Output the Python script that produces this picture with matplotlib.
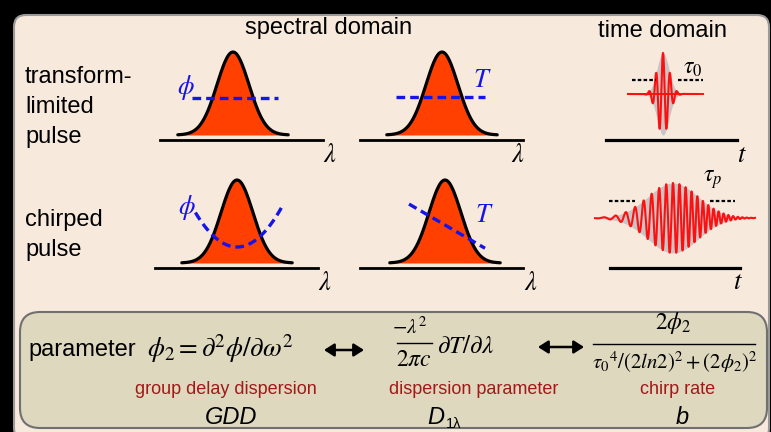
import numpy as np
import matplotlib.pyplot as plt
from matplotlib.patches import FancyBboxPatch, FancyArrowPatch

plt.rcParams['font.family'] = ['Liberation Sans', 'DejaVu Sans']
plt.rcParams['mathtext.fontset'] = 'stix'

# ---------------- content ----------------
col_titles = ['spectral domain', 'time domain']
row_labels = [['transform-', 'limited', 'pulse'], ['chirped', 'pulse']]
param_names = ['group delay dispersion', 'dispersion parameter', 'chirp rate']
param_symbols = ['GDD', 'D', 'b']
d_subscript = '1λ'
formula_gdd = r'$\phi_2 = \partial^2\phi/\partial\omega^2$'
formula_d_num = r'$-\lambda^2$'
formula_d_den = r'$2\pi c$'
formula_d_rest = r'$\partial T/\partial\lambda$'
formula_b_num = r'$2\phi_2$'
formula_b_den = r'$\tau_0{}^4/(2ln2)^2 + (2\phi_2)^2$'

# spectrum: lambda in units of the spectral width
lam = np.linspace(-3.45, 3.45, 200)
spectrum = np.exp(-lam**2 / 2)
# chirped pulse: quadratic spectral phase, linear group delay
lam_phi = np.linspace(-2.6, 2.8, 60)
phi_quad = 5.1 * lam_phi**2          # px above minimum
lam_T = np.array([-2.25, 2.5])
T_lin = -9.3 * lam_T                 # px above centre

# time domain fields (t in px)
t_tl = np.linspace(-35, 35, 900)
env_tl = np.exp(-t_tl**2 / (2 * 6.0**2))
field_tl = env_tl * np.cos(2 * np.pi * t_tl / 7.0)
t_ch = np.linspace(-78, 82, 2000)
env_ch = np.exp(-t_ch**2 / (2 * 25.0**2))
field_ch = env_ch * np.cos(2 * np.pi * (t_ch / 6.6 + 0.00052 * t_ch**2))

# ---------------- colours ----------------
BG = '#f7e9dc'
BOX = '#ddd8be'
FILL = '#ff4000'
BLUE = '#1515e8'
DRED = '#a31818'
GRAY = '#c6c6c6'
PULSE = '#ff1010'

fig = plt.figure(figsize=(7.71, 4.32), dpi=100, facecolor='black')
ax = fig.add_axes([0, 0, 1, 1])
ax.set_xlim(0, 771)
ax.set_ylim(432, 0)
ax.axis('off')
ax.set_facecolor('black')

ax.add_patch(FancyBboxPatch((14, 15), 755, 425, boxstyle='round,pad=0,rounding_size=12',
                            fc=BG, ec='#9a9a9a', lw=1.5, zorder=0))
ax.add_patch(FancyBboxPatch((20, 312), 747, 116, boxstyle='round,pad=0,rounding_size=20',
                            fc=BOX, ec='#707070', lw=1.5, zorder=1))

# titles and row labels
ax.text(329, 28, col_titles[0], fontsize=17, ha='center', va='center')
ax.text(663, 31, col_titles[1], fontsize=17, ha='center', va='center')
for txt, yb in zip(row_labels[0], [83, 113, 143]):
    ax.text(25, yb, txt, fontsize=17, ha='left', va='baseline')
for txt, yb in zip(row_labels[1], [226, 256]):
    ax.text(25, yb, txt, fontsize=17, ha='left', va='baseline')

SIG = 16.0   # px per spectral width unit
HGT = 83.0


def draw_spectrum(cx, base, axis_x0, axis_x1, axis_y, lab_xy):
    x = cx + lam * SIG
    y = base - HGT * spectrum
    ax.fill_between(x, y, base, color=FILL, lw=0, zorder=2)
    ax.plot(x, y, color='black', lw=2.3, zorder=3, solid_capstyle='round')
    ax.plot([axis_x0, axis_x1], [axis_y, axis_y], color='black', lw=2.0, zorder=3)
    ax.text(lab_xy[0], lab_xy[1], r'$\lambda$', fontsize=19, ha='center', va='center')


def draw_pulse(cx, cy, amp, t, env, field, axis_x0, axis_x1, axis_y, lab_xy):
    ax.fill_between(cx + t, cy - amp * env, cy + amp * env, color=GRAY, lw=0, zorder=2)
    ax.plot(cx + t, cy - amp * field, color=PULSE, lw=1.5, zorder=3)
    ax.plot([axis_x0, axis_x1], [axis_y, axis_y], color='black', lw=2.3, zorder=3)
    ax.text(lab_xy[0], lab_xy[1], r'$t$', fontsize=19, ha='center', va='center')


dash_blue = (0, (2.6, 1.5))
dash_blk = (0, (1.6, 1.0))

# row 1: transform-limited
draw_spectrum(233, 135, 160, 323, 140, (330, 155))
ax.plot([192, 278], [98, 98], color=BLUE, lw=2.4, ls=dash_blue, zorder=4)
ax.text(186, 88, r'$\phi$', color=BLUE, fontsize=19, ha='center', va='center')

draw_spectrum(442, 135, 360, 523, 140, (518, 155))
ax.plot([396, 485], [97, 97], color=BLUE, lw=2.4, ls=dash_blue, zorder=4)
ax.text(482, 80, r'$T$', color=BLUE, fontsize=19, ha='center', va='center')

ax.plot([632, 656], [80, 80], color='black', lw=1.6, ls=dash_blk, zorder=4)
ax.plot([678, 703], [80, 80], color='black', lw=1.6, ls=dash_blk, zorder=4)
ax.plot([633, 703], [94, 94], color=PULSE, lw=1.4, zorder=3)
draw_pulse(663, 94, 41, t_tl, env_tl, field_tl, 606, 737, 140, (742, 155))
ax.text(693, 68, r'$\tau_0$', fontsize=17, ha='center', va='center')

# row 2: chirped
draw_spectrum(237, 263, 155, 318, 268, (325, 283))
ax.plot(237 + lam_phi * SIG, 247 - phi_quad, color=BLUE, lw=2.4, ls=dash_blue, zorder=4)
ax.text(187, 207, r'$\phi$', color=BLUE, fontsize=19, ha='center', va='center')

draw_spectrum(445, 263, 360, 523, 268, (531, 283))
ax.plot(445 + lam_T * SIG, 225 - T_lin, color=BLUE, lw=2.4, ls=dash_blue, zorder=4)
ax.text(484, 215, r'$T$', color=BLUE, fontsize=19, ha='center', va='center')

ax.plot([609, 635], [201, 201], color='black', lw=1.6, ls=dash_blk, zorder=4)
ax.plot([710, 735], [201, 201], color='black', lw=1.6, ls=dash_blk, zorder=4)
draw_pulse(673, 218, 35, t_ch, env_ch, field_ch, 610, 740, 268, (738, 282))
ax.text(713, 180, r'$\tau_p$', fontsize=17, ha='center', va='center')

# parameter box
ax.text(28, 350, 'parameter', fontsize=17, ha='left', va='center', zorder=5)
ax.text(147, 349, formula_gdd, fontsize=19.5, ha='left', va='center', zorder=5)
for x0, x1, y in [(324, 364, 350), (538, 584, 347)]:
    ax.add_patch(FancyArrowPatch((x0, y), (x1, y), arrowstyle='<|-|>,head_length=0.5,head_width=0.32',
                                 mutation_scale=12, color='black', lw=1.8, shrinkA=0, shrinkB=0,
                                 zorder=5))
ax.text(410, 327, formula_d_num, fontsize=15, ha='center', va='center', zorder=5)
ax.plot([397, 432], [343, 343], color='black', lw=1.0, zorder=5)
ax.text(414, 360, formula_d_den, fontsize=17, ha='center', va='center', zorder=5)
ax.text(437, 346, formula_d_rest, fontsize=18, ha='left', va='center', zorder=5)

ax.text(673, 323, formula_b_num, fontsize=17, ha='center', va='center', zorder=5)
ax.plot([593, 755], [344, 344], color='black', lw=1.0, zorder=5)
ax.text(675, 362, formula_b_den, fontsize=15, ha='center', va='center', zorder=5)

for txt, x in zip(param_names, [226, 474, 678]):
    ax.text(x, 389, txt, fontsize=13, color=DRED, ha='center', va='center', zorder=5)
for txt, x in zip(param_symbols, [231, 436, 682]):
    ax.text(x, 418, txt, fontsize=17, style='italic', ha='center', va='center', zorder=5)
ax.text(446, 424, d_subscript, fontsize=10.5, ha='left', va='center', zorder=5)

fig.savefig('out.png', dpi=100, facecolor='black')
